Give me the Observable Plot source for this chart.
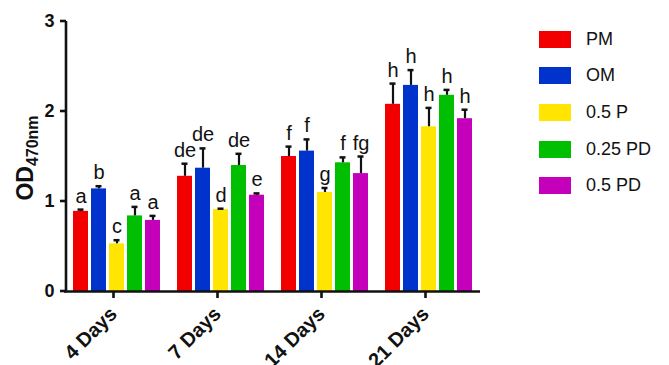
<!DOCTYPE html>
<html>
<head>
<meta charset="utf-8">
<script src="https://cdn.jsdelivr.net/npm/d3@7"></script>
<script src="https://cdn.jsdelivr.net/npm/@observablehq/plot@0.6"></script>
<style>
  body { margin: 0; background: #fff; }
  #wrap { position: relative; width: 669px; height: 365px; font-family: "Liberation Sans", Arial, sans-serif; }
  #legend { position: absolute; left: 539px; top: 21px; }
  .row { display: flex; align-items: center; height: 36.6px; }
  .sw { width: 32px; height: 17px; margin-right: 15px; }
  .lab { font-size: 18px; color: #111; }
</style>
</head>
<body>
<div id="wrap"><div id="chart"></div><div id="legend"></div></div>
<script>
const days = ["4 Days", "7 Days", "14 Days", "21 Days"];
const groups = ["PM", "OM", "0.5 P", "0.25 PD", "0.5 PD"];
const colors = ["#f20000", "#0033cc", "#ffe500", "#00bf00", "#c400bb"];

const meanPM   = [0.89, 1.28, 1.50, 2.08];
const meanOM   = [1.14, 1.37, 1.56, 2.29];
const mean05P  = [0.53, 0.91, 1.10, 1.83];
const mean025PD = [0.84, 1.40, 1.43, 2.18];
const mean05PD = [0.79, 1.07, 1.31, 1.92];

const sdPM   = [0.02, 0.14, 0.11, 0.23];
const sdOM   = [0.03, 0.22, 0.13, 0.17];
const sd05P  = [0.04, 0.01, 0.05, 0.21];
const sd025PD = [0.10, 0.13, 0.06, 0.06];
const sd05PD = [0.05, 0.02, 0.19, 0.10];

const letPM   = ["a", "de", "f", "h"];
const letOM   = ["b", "de", "f", "h"];
const let05P  = ["c", "d", "g", "h"];
const let025PD = ["a", "de", "f", "h"];
const let05PD = ["a", "e", "fg", "h"];

const yTicks = [0, 1, 2, 3];
const yLabel = "OD";
const yLabelSub = "470nm";

const means = [meanPM, meanOM, mean05P, mean025PD, mean05PD];
const sds = [sdPM, sdOM, sd05P, sd025PD, sd05PD];
const lets = [letPM, letOM, let05P, let025PD, let05PD];

const data = [];
days.forEach((d, i) => groups.forEach((g, j) => {
  data.push({day: d, group: g, value: means[j][i], top: means[j][i] + sds[j][i], letter: lets[j][i]});
}));

const font = "Liberation Sans, Arial, sans-serif";

const chart = Plot.plot({
  width: 669,
  height: 365,
  marginLeft: 64,
  marginRight: 189,
  marginTop: 21,
  marginBottom: 74,
  style: {fontFamily: font, background: "white", color: "#111"},
  fx: {domain: days, padding: 0, label: null, axis: null},
  x: {domain: groups, paddingInner: 0.185, paddingOuter: 0.42, axis: null},
  y: {domain: [0, 3], axis: null},
  color: {domain: groups, range: colors},
  marks: [
    Plot.barY(data, {fx: "day", x: "group", y: "value", fill: "group"}),
    Plot.ruleX(data, {fx: "day", x: "group", y1: "value", y2: "top", stroke: "#111", strokeWidth: 2.2}),
    Plot.tickY(data, {fx: "day", x: "group", y: "top", stroke: "#111", strokeWidth: 2.5, insetLeft: 4.5, insetRight: 4.5}),
    Plot.text(data, {fx: "day", x: "group", y: "top", text: "letter", dy: -7, lineAnchor: "bottom", fontSize: 20, fill: "#111"}),
    Plot.ruleY([0], {stroke: "#111", strokeWidth: 2.6}),
    Plot.axisFx({anchor: "bottom", tickSize: 7, tickRotate: -45, fontSize: 20, fontWeight: "bold", strokeWidth: 2.6, tickPadding: 12, dx: -3, label: null}),
    Plot.axisY({ticks: yTicks, tickSize: 0, tickPadding: 10, fontSize: 18, fontWeight: "bold", label: null, tickFormat: d3.format("d")})
  ]
});

document.getElementById("chart").appendChild(chart);

// y-axis domain line and ticks drawn with the plot's y scale
const ys = chart.scale("y");
const svg = d3.select(chart);
const ax = 66;
svg.append("line").attr("x1", ax).attr("x2", ax)
  .attr("y1", ys.apply(0) + 1.3).attr("y2", ys.apply(3))
  .attr("stroke", "#111").attr("stroke-width", 2.6);
yTicks.forEach(t => {
  svg.append("line").attr("x1", ax - 6).attr("x2", ax)
    .attr("y1", ys.apply(t)).attr("y2", ys.apply(t))
    .attr("stroke", "#111").attr("stroke-width", 2.6);
});

// y-axis title with subscript
const mid = (ys.apply(0) + ys.apply(3)) / 2;
const t = svg.append("text")
  .attr("transform", `translate(33,${mid + 2}) rotate(-90)`)
  .attr("text-anchor", "middle")
  .attr("font-family", font)
  .attr("font-weight", "bold")
  .attr("fill", "#111");
t.append("tspan").attr("font-size", 23).text(yLabel);
t.append("tspan").attr("font-size", 16).attr("dy", 5).text(yLabelSub);

// legend
const legend = d3.select("#legend");
groups.forEach((g, j) => {
  const r = legend.append("div").attr("class", "row");
  r.append("div").attr("class", "sw").style("background", colors[j]);
  r.append("div").attr("class", "lab").text(g);
});
</script>
</body>
</html>
